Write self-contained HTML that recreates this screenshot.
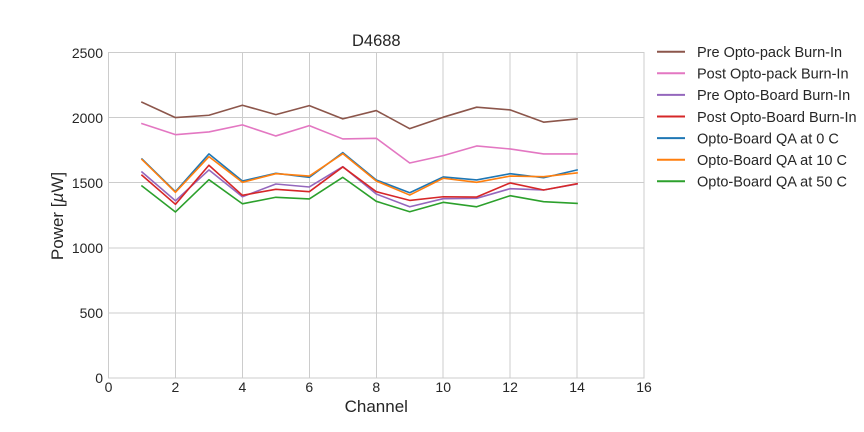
<!DOCTYPE html>
<html><head><meta charset="utf-8"><style>
html,body{margin:0;padding:0;background:#fff;}
svg{display:block;font-family:"Liberation Sans",Arial,sans-serif;}
</style></head><body>
<svg width="864" height="432" viewBox="0 0 864 432" xmlns="http://www.w3.org/2000/svg">
<rect width="864" height="432" fill="#fff"/>
<g stroke="#cccccc" stroke-width="1" fill="none" shape-rendering="crispEdges">
<line x1="175.4" y1="52.5" x2="175.4" y2="378"/>
<line x1="242.4" y1="52.5" x2="242.4" y2="378"/>
<line x1="309.3" y1="52.5" x2="309.3" y2="378"/>
<line x1="376.3" y1="52.5" x2="376.3" y2="378"/>
<line x1="443.2" y1="52.5" x2="443.2" y2="378"/>
<line x1="510.1" y1="52.5" x2="510.1" y2="378"/>
<line x1="577.1" y1="52.5" x2="577.1" y2="378"/>
<line x1="108.5" y1="312.9" x2="644" y2="312.9"/>
<line x1="108.5" y1="247.8" x2="644" y2="247.8"/>
<line x1="108.5" y1="182.7" x2="644" y2="182.7"/>
<line x1="108.5" y1="117.6" x2="644" y2="117.6"/>
<rect x="108.5" y="52.5" width="535.5" height="325.5"/>
</g>
<g transform="translate(108.5,377.6) scale(33.47,-0.1302)" fill="none" stroke-width="1.6" stroke-linejoin="round" stroke-linecap="square">
<polyline vector-effect="non-scaling-stroke" stroke="#8c564b" points="1,2115 2,1997 3,2015 4,2092 5,2020 6,2089 7,1987 8,2051 9,1912 10,2000 11,2077 12,2056 13,1962 14,1987"/>
<polyline vector-effect="non-scaling-stroke" stroke="#e377c2" points="1,1951 2,1866 3,1887 4,1941 5,1856 6,1935 7,1833 8,1838 9,1648 10,1705 11,1779 12,1756 13,1718 14,1718"/>
<polyline vector-effect="non-scaling-stroke" stroke="#9467bd" points="1,1579 2,1358 3,1595 4,1389 5,1487 6,1464 7,1620 8,1410 9,1312 10,1374 11,1377 12,1451 13,1441 14,1487"/>
<polyline vector-effect="non-scaling-stroke" stroke="#d62728" points="1,1554 2,1331 3,1631 4,1400 5,1446 6,1428 7,1618 8,1428 9,1361 10,1389 11,1387 12,1495 13,1441 14,1489"/>
<polyline vector-effect="non-scaling-stroke" stroke="#1f77b4" points="1,1679 2,1428 3,1718 4,1510 5,1569 6,1538 7,1728 8,1518 9,1420 10,1541 11,1518 12,1566 13,1535 14,1595"/>
<polyline vector-effect="non-scaling-stroke" stroke="#ff7f0e" points="1,1675 2,1423 3,1697 4,1500 5,1566 6,1548 7,1720 8,1510 9,1402 10,1531 11,1500 12,1548 13,1543 14,1572"/>
<polyline vector-effect="non-scaling-stroke" stroke="#2ca02c" points="1,1472 2,1272 3,1520 4,1335 5,1385 6,1372 7,1538 8,1354 9,1274 10,1346 11,1312 12,1397 13,1351 14,1338"/>
</g>
<g fill="#262626" font-size="14" text-anchor="end">
<text x="103" y="383">0</text>
<text x="103" y="318">500</text>
<text x="103" y="253">1000</text>
<text x="103" y="188">1500</text>
<text x="103" y="123">2000</text>
<text x="103" y="58">2500</text>
</g>
<g fill="#262626" font-size="14" text-anchor="middle">
<text x="108.5" y="392">0</text>
<text x="175.4" y="392">2</text>
<text x="242.4" y="392">4</text>
<text x="309.3" y="392">6</text>
<text x="376.3" y="392">8</text>
<text x="443.2" y="392">10</text>
<text x="510.1" y="392">12</text>
<text x="577.1" y="392">14</text>
<text x="644" y="392">16</text>
</g>
<text x="376.3" y="412" fill="#262626" font-size="17" text-anchor="middle">Channel</text>
<text transform="translate(63,216) rotate(-90)" fill="#262626" font-size="17" text-anchor="middle">Power [<tspan font-style="italic">µ</tspan>W]</text>
<text x="376.3" y="46" fill="#262626" font-size="16.5" text-anchor="middle">D4688</text>
<g stroke-width="2">
<line x1="657" y1="51.7" x2="685" y2="51.7" stroke="#8c564b"/>
<line x1="657" y1="73.3" x2="685" y2="73.3" stroke="#e377c2"/>
<line x1="657" y1="94.9" x2="685" y2="94.9" stroke="#9467bd"/>
<line x1="657" y1="116.5" x2="685" y2="116.5" stroke="#d62728"/>
<line x1="657" y1="138.1" x2="685" y2="138.1" stroke="#1f77b4"/>
<line x1="657" y1="159.7" x2="685" y2="159.7" stroke="#ff7f0e"/>
<line x1="657" y1="181.3" x2="685" y2="181.3" stroke="#2ca02c"/>
</g>
<g fill="#262626" font-size="14.5">
<text x="697" y="57">Pre Opto-pack Burn-In</text>
<text x="697" y="78.6">Post Opto-pack Burn-In</text>
<text x="697" y="100.2">Pre Opto-Board Burn-In</text>
<text x="697" y="121.8">Post Opto-Board Burn-In</text>
<text x="697" y="143.4">Opto-Board QA at 0 C</text>
<text x="697" y="165">Opto-Board QA at 10 C</text>
<text x="697" y="186.6">Opto-Board QA at 50 C</text>
</g>
</svg>
</body></html>
